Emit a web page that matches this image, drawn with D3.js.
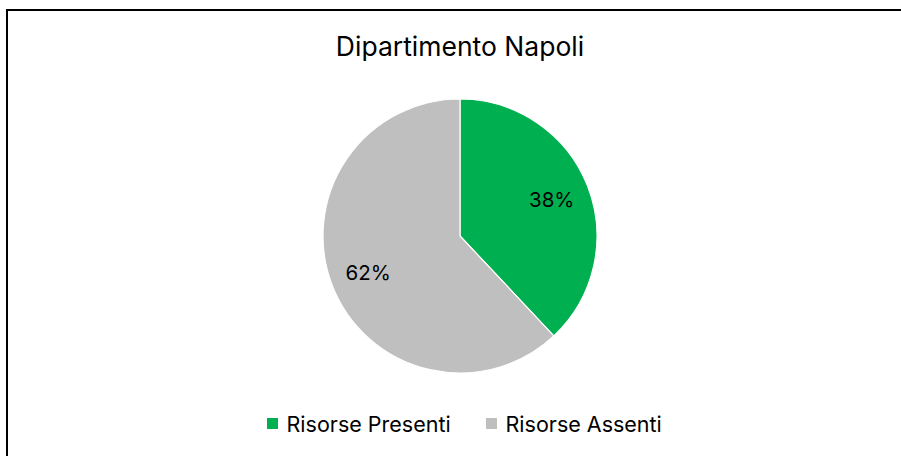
<!DOCTYPE html>
<html>
<head>
<meta charset="utf-8">
<script src="https://cdn.jsdelivr.net/npm/d3@7"></script>
<style>
  body { margin: 0; background: #fff; }
  svg { display: block; font-family: Inter, "Liberation Sans", sans-serif; }
</style>
</head>
<body>
<svg width="901" height="456"></svg>
<script>
const svg_ = d3.select('svg');

const W = 901;
const H = 456;

// dati
const categories = ["Risorse Presenti", "Risorse Assenti"];
const values = [38, 62];
const colors = ["#00B050", "#BFBFBF"];
const title = "Dipartimento Napoli";

const CX = 460;
const CY = 236;
const R = 137;
const LABEL_R = R * 0.72;

// cornice del grafico (tagliata a destra e in basso)
svg_.append("rect")
    .attr("x", 7)
    .attr("y", 10)
    .attr("width", 920)
    .attr("height", 480)
    .attr("fill", "#fff")
    .attr("stroke", "#000")
    .attr("stroke-width", 2);

svg_.append("text")
    .attr("x", CX)
    .attr("y", 56)
    .attr("text-anchor", "middle")
    .attr("font-size", 26.5)
    .attr("fill", "#000")
    .text(title);

const pie = d3.pie().sort(null).value(d => d);
const arcs = pie(values);

const arc = d3.arc().innerRadius(0).outerRadius(R);
const labelArc = d3.arc().innerRadius(LABEL_R).outerRadius(LABEL_R);

const g = svg_.append("g").attr("transform", `translate(${CX},${CY})`);

g.selectAll("path")
    .data(arcs)
    .join("path")
    .attr("d", arc)
    .attr("fill", (d, i) => colors[i])
    .attr("stroke", "#fff")
    .attr("stroke-width", 1.2);

g.selectAll("text")
    .data(arcs)
    .join("text")
    .attr("transform", d => `translate(${labelArc.centroid(d)})`)
    .attr("text-anchor", "middle")
    .attr("dy", "0.38em")
    .attr("font-size", 20.5)
    .attr("fill", "#000")
    .text(d => d.data + "%");

// legenda
const legendItems = [
    { x: 267, w: 11 },
    { x: 486, w: 11 }
];

const legend = svg_.append("g");
categories.forEach((c, i) => {
    legend.append("rect")
        .attr("x", legendItems[i].x)
        .attr("y", 418)
        .attr("width", legendItems[i].w)
        .attr("height", legendItems[i].w)
        .attr("fill", colors[i]);
    legend.append("text")
        .attr("x", legendItems[i].x + 19.5)
        .attr("y", 432)
        .attr("font-size", 21.5)
        .attr("fill", "#000")
        .text(c);
});
</script>
</body>
</html>
